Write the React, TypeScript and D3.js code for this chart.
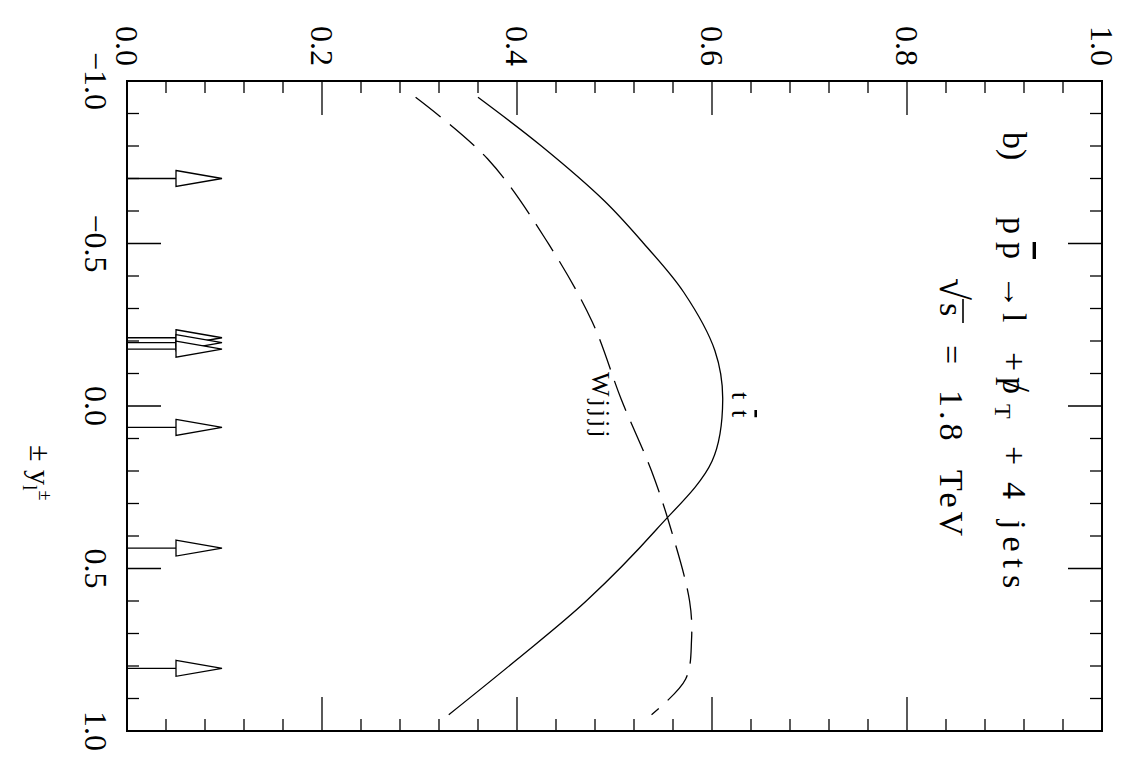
import { useEffect, useRef } from "react"
import * as d3 from "d3"

// value axis (drawn along the top/bottom because the figure is rotated)
const valueMajor = [0, 0.2, 0.4, 0.6, 0.8, 1.0]
const valueLabels = ["0.0", "0.2", "0.4", "0.6", "0.8", "1.0"]
// rapidity axis (drawn along the left/right)
const rapMajor = [-1, -0.5, 0, 0.5, 1]
const rapLabels = ["\u22121.0", "\u22120.5", "0.0", "0.5", "1.0"]

// t tbar curve (solid)
const ttbarRap = [-0.95, -0.8, -0.63, -0.5, -0.35, -0.17, -0.02, 0.17, 0.38, 0.6, 0.78, 0.95]
const ttbarVal = [0.36, 0.425, 0.49, 0.53, 0.571, 0.603, 0.611, 0.6, 0.543, 0.471, 0.4, 0.33]

// W jjjj curve (dashed)
const wjjjjRap = [-0.95, -0.76, -0.51, -0.26, -0.02, 0.2, 0.38, 0.6, 0.72, 0.84, 0.95]
const wjjjjVal = [0.296, 0.37, 0.43, 0.477, 0.507, 0.538, 0.558, 0.577, 0.579, 0.573, 0.538]

// event markers (arrows)
const eventRap = [-0.7, -0.21, -0.195, -0.175, 0.066, 0.437, 0.807]

const W = 1125
const H = 767
const FONT = "'Liberation Serif', 'Times New Roman', serif"

export default function App() {
  const svgRef = useRef<SVGSVGElement>(null)

  useEffect(() => {
    if (!svgRef.current) return
    const svg = d3.select(svgRef.current)
    svg.selectAll("*").remove()

    const left = 127, right = 1102, top = 81, bottom = 731
    const xv = d3.scaleLinear().domain([0, 1]).range([left, right])
    const yr = d3.scaleLinear().domain([-1, 1]).range([top, bottom])

    svg.append("rect").attr("width", W).attr("height", H).attr("fill", "#fff")

    // frame
    svg.append("rect")
      .attr("x", left).attr("y", top)
      .attr("width", right - left).attr("height", bottom - top)
      .attr("fill", "none").attr("stroke", "#000").attr("stroke-width", 2)

    const ticks = svg.append("g").attr("stroke", "#000").attr("stroke-width", 1.3)
    const isMajor = (v: number, step: number) => Math.abs(v / step - Math.round(v / step)) < 1e-6

    // value ticks on top and bottom
    d3.range(0, 1.0001, 0.04).forEach(v => {
      const len = isMajor(v, 0.2) ? 34 : 12
      ticks.append("line").attr("x1", xv(v)).attr("x2", xv(v)).attr("y1", top).attr("y2", top + len)
      ticks.append("line").attr("x1", xv(v)).attr("x2", xv(v)).attr("y1", bottom).attr("y2", bottom - len)
    })
    // rapidity ticks left and right
    d3.range(-1, 1.0001, 0.1).forEach(v => {
      const len = isMajor(v, 0.5) ? 34 : 12
      ticks.append("line").attr("x1", left).attr("x2", left + len).attr("y1", yr(v)).attr("y2", yr(v))
      ticks.append("line").attr("x1", right).attr("x2", right - len).attr("y1", yr(v)).attr("y2", yr(v))
    })

    // tick labels (rotated)
    valueMajor.forEach((v, i) => {
      svg.append("text")
        .attr("transform", `translate(${xv(v) - 11},66) rotate(90)`)
        .attr("text-anchor", "end")
        .attr("font-family", FONT).attr("font-size", 32)
        .text(valueLabels[i])
    })
    rapMajor.forEach((v, i) => {
      svg.append("text")
        .attr("transform", `translate(85,${yr(v)}) rotate(90)`)
        .attr("text-anchor", "middle")
        .attr("font-family", FONT).attr("font-size", 32)
        .text(rapLabels[i])
    })

    // curves
    const line = d3.line<[number, number]>()
      .x(d => xv(d[1]))
      .y(d => yr(d[0]))
      .curve(d3.curveCatmullRom.alpha(0.5))

    svg.append("path")
      .datum(ttbarRap.map((r, i) => [r, ttbarVal[i]] as [number, number]))
      .attr("d", line)
      .attr("fill", "none").attr("stroke", "#000").attr("stroke-width", 1.3)

    svg.append("path")
      .datum(wjjjjRap.map((r, i) => [r, wjjjjVal[i]] as [number, number]))
      .attr("d", line)
      .attr("fill", "none").attr("stroke", "#000").attr("stroke-width", 1.3)
      .attr("stroke-dasharray", "32 12")

    // arrows marking events
    const arrows = svg.append("g").attr("stroke", "#000").attr("stroke-width", 1.3)
    eventRap.forEach(r => {
      const y = yr(r)
      arrows.append("line").attr("x1", left).attr("x2", left + 49).attr("y1", y).attr("y2", y)
      arrows.append("path")
        .attr("d", `M${left + 49},${y - 8}L${left + 95},${y}L${left + 49},${y + 8}Z`)
        .attr("fill", "#fff")
    })

    // text helper: rotated text, local x = screen y
    const rtext = (bx: number, size: number) =>
      svg.append("text")
        .attr("transform", `translate(${bx},0) rotate(90)`)
        .attr("font-family", FONT).attr("font-size", size)

    // title
    const t1 = rtext(1003, 34)
    t1.append("tspan").attr("x", 132).text("b)")
    t1.append("tspan").attr("x", 217).text("p")
    t1.append("tspan").attr("x", 242).style("text-decoration", "overline").text("p")
    t1.append("tspan").attr("x", 275).text("\u2192")
    t1.append("tspan").attr("x", 313).text("l")
    t1.append("tspan").attr("x", 352).text("+")
    t1.append("tspan").attr("x", 377).text("p")
    t1.append("tspan").attr("x", 381).attr("font-size", 40).text("/")
    t1.append("tspan").attr("x", 404).attr("dy", 8).attr("font-size", 24).text("T")
    t1.append("tspan").attr("x", 446).attr("dy", -8).text("+")
    t1.append("tspan").attr("x", 482).text("4")
    t1.append("tspan").attr("x", 520).attr("letter-spacing", 7).text("jets")

    const t2 = rtext(940, 34)
    t2.append("tspan").attr("x", 278).attr("font-size", 40).text("\u221A")
    t2.append("tspan").attr("x", 303).text("s")
    t2.append("tspan").attr("x", 345).text("=")
    t2.append("tspan").attr("x", 390).attr("letter-spacing", 4).text("1.8")
    t2.append("tspan").attr("x", 470).attr("letter-spacing", 4).text("TeV")
    // vinculum of the square root
    svg.append("line")
      .attr("x1", 963).attr("x2", 963).attr("y1", 299).attr("y2", 323)
      .attr("stroke", "#000").attr("stroke-width", 1.6)

    // curve labels
    const tl = rtext(732, 26)
    tl.append("tspan").attr("x", 392).text("t")
    tl.append("tspan").attr("x", 410).style("text-decoration", "overline").text("t")

    const wl = rtext(592, 26)
    wl.append("tspan").attr("x", 372).attr("letter-spacing", 3).text("Wjjjj")

    // axis title
    const ax = rtext(30, 30)
    ax.append("tspan").attr("x", 445).text("\u00B1")
    ax.append("tspan").attr("x", 470).text("y")
    ax.append("tspan").attr("dy", 7).attr("font-size", 20).text("l")
    ax.append("tspan").attr("dy", -16).attr("font-size", 18).text("\u00B1")
  }, [])

  return (
    <svg
      ref={svgRef}
      width={W}
      height={H}
      style={{ position: "absolute", left: 0, top: 0, background: "#fff" }}
    />
  )
}
